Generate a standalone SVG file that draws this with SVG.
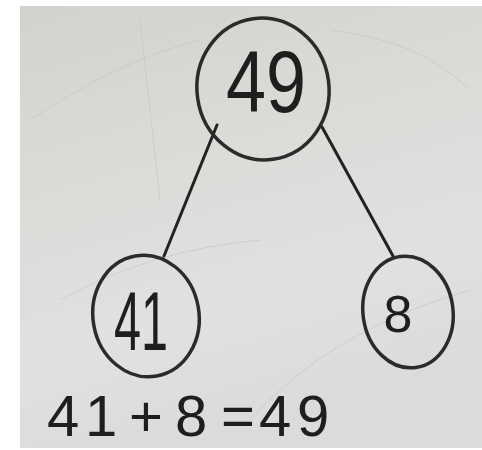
<svg xmlns="http://www.w3.org/2000/svg" width="482" height="450" viewBox="0 0 482 450">
<defs>
<linearGradient id="board" x1="0" y1="0" x2="0.3" y2="1">
<stop offset="0" stop-color="#d3d2cd"/>
<stop offset="0.45" stop-color="#dcdcd9"/>
<stop offset="0.75" stop-color="#dfe1e3"/>
<stop offset="1" stop-color="#d9dbdd"/>
</linearGradient>
<style>
.ring{fill:none;stroke:#2b2b2b;stroke-width:3.5}
.edge{fill:none;stroke:#222;stroke-width:3;stroke-linecap:round}
.num{font-family:"Liberation Sans","DejaVu Sans",sans-serif;fill:#1e1e1e;font-weight:normal}
.scratch{fill:none;stroke:#bdbdb8;stroke-width:0.8;opacity:0.6}
</style>
</defs>
<rect x="0" y="0" width="482" height="450" fill="#ffffff"/>
<rect x="20" y="6" width="462" height="442" fill="url(#board)"/>
<g id="scratches">
<path class="scratch" d="M30 120 Q120 60 200 40"/>
<path class="scratch" d="M60 300 Q150 250 260 240"/>
<path class="scratch" d="M330 30 Q420 40 470 90"/>
<path class="scratch" d="M250 420 Q330 330 470 290"/>
<path class="scratch" d="M140 20 L160 200"/>
</g>
<g id="connectors">
<path class="edge" d="M217 125 L164 256"/>
<path class="edge" d="M322 127 L393 256"/>
</g>
<g id="node-49">
<ellipse class="ring" cx="263" cy="89" rx="66" ry="71" transform="rotate(-8 263 89)"/>
<text class="num" x="266" y="112" font-size="88" text-anchor="middle" textLength="80" lengthAdjust="spacingAndGlyphs">49</text>
</g>
<g id="node-41">
<ellipse class="ring" cx="146" cy="316" rx="53" ry="61" transform="rotate(-10 146 316)"/>
<text class="num" x="141" y="350" font-size="84" text-anchor="middle" textLength="54" lengthAdjust="spacingAndGlyphs">41</text>
</g>
<g id="node-8">
<ellipse class="ring" cx="408" cy="312" rx="45" ry="56" transform="rotate(-8 408 312)"/>
<text class="num" x="398" y="332" font-size="52" text-anchor="middle">8</text>
</g>
<g id="equation">
<text class="num" y="436" font-size="58" x="47 85 110 129 175 205 221 259 297">41 +8 =49</text>
</g>
</svg>
